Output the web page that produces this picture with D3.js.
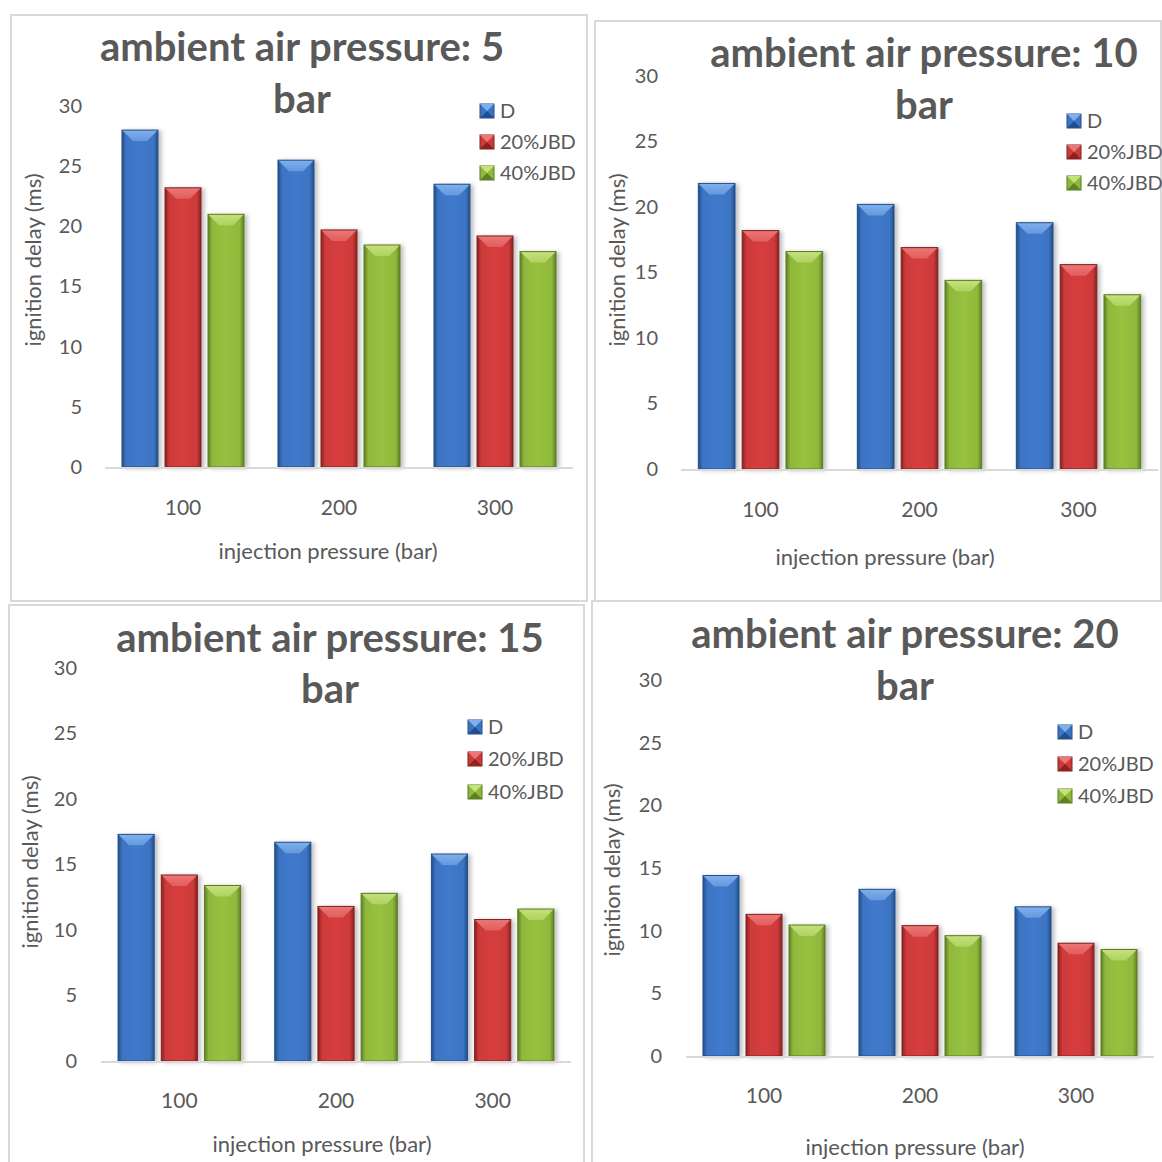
<!DOCTYPE html>
<html>
<head>
<meta charset="utf-8">
<script src="https://cdn.jsdelivr.net/npm/d3@7.9.0/dist/d3.min.js"></script>
<style>
  body { margin: 0; background: #fff; }
  svg { display: block; font-family: Lato, 'Open Sans', sans-serif; }
</style>
</head>
<body>
<svg id="chart" width="1162" height="1162"></svg>
<script>
// data
const categories = ['100', '200', '300'];
const seriesNames = ['D', '20%JBD', '40%JBD'];
const yTicks = [0, 5, 10, 15, 20, 25, 30];
const titles = ['ambient air pressure: 5', 'ambient air pressure: 10', 'ambient air pressure: 15', 'ambient air pressure: 20'];

// ignition delay (ms), one array per panel, rows = series, cols = injection pressure
const delay5bar = [[28.0, 25.5, 23.5], [23.2, 19.7, 19.2], [21.0, 18.45, 17.9]];
const delay10bar = [[21.8, 20.2, 18.8], [18.2, 16.9, 15.6], [16.6, 14.4, 13.3]];
const delay15bar = [[17.3, 16.7, 15.8], [14.2, 11.8, 10.8], [13.4, 12.8, 11.6]];
const delay20bar = [[14.4, 13.3, 11.9], [11.3, 10.4, 9.0], [10.45, 9.6, 8.5]];
const panelData = [delay5bar, delay10bar, delay15bar, delay20bar];

// panel geometry (pixels)
const layout = [
  { box: [11, 15, 587, 601], x: [105, 573], y: [467, 106], tx: 302, ty: [61, 113], lx: 480, ly: [111, 142, 173], yl: [33, 260], xl: [328, 551], tickY: 508, yTickX: 82 },
  { box: [595, 21, 1161, 602], x: [681, 1158], y: [469, 76], tx: 924, ty: [67, 119], lx: 1067, ly: [121, 152, 183], yl: [617, 260], xl: [885, 557], tickY: 510, yTickX: 658 },
  { box: [9, 605, 584, 1175], x: [101, 571], y: [1061, 668], tx: 330, ty: [652, 703], lx: 468, ly: [727, 759, 792], yl: [30, 862], xl: [322, 1144], tickY: 1101, yTickX: 77 },
  { box: [592, 601, 1175, 1175], x: [686, 1154], y: [1056, 680], tx: 905, ty: [648, 700], lx: 1058, ly: [732, 764, 796], yl: [612, 870], xl: [915, 1147], tickY: 1096, yTickX: 662 }
];

const palette = [
  { base: '#3d74c2', dark: '#1f4f8e', light: '#7fb0ee', edge: '#264f86' },
  { base: '#cc3a3a', dark: '#8e2020', light: '#ee7676', edge: '#7e2222' },
  { base: '#8fb83c', dark: '#5f8024', light: '#c4e27a', edge: '#5a7a22' }
];
const textColor = '#595959';

const svg = d3.select('#chart');
const defs = svg.append('defs');

palette.forEach((c, i) => {
  const g = defs.append('linearGradient').attr('id', 'grad' + i)
    .attr('x1', 0).attr('x2', 1).attr('y1', 0).attr('y2', 0);
  g.append('stop').attr('offset', '0%').attr('stop-color', c.dark);
  g.append('stop').attr('offset', '12%').attr('stop-color', c.base);
  g.append('stop').attr('offset', '50%').attr('stop-color', d3.color(c.base).brighter(0.15));
  g.append('stop').attr('offset', '88%').attr('stop-color', c.base);
  g.append('stop').attr('offset', '100%').attr('stop-color', c.dark);

  const t = defs.append('linearGradient').attr('id', 'top' + i)
    .attr('x1', 0).attr('x2', 0).attr('y1', 0).attr('y2', 1);
  t.append('stop').attr('offset', '0%').attr('stop-color', c.light);
  t.append('stop').attr('offset', '100%').attr('stop-color', d3.interpolateRgb(c.light, c.base)(0.4));
});

const shadow = defs.append('filter').attr('id', 'shadow')
  .attr('x', '-20%').attr('y', '-10%').attr('width', '150%').attr('height', '130%');
shadow.append('feDropShadow').attr('dx', 3).attr('dy', 1).attr('stdDeviation', 2)
  .attr('flood-color', '#000').attr('flood-opacity', 0.25);

function drawBar(g, x, y, w, h, i, bevel) {
  const c = palette[i];
  const b = Math.min(bevel, h / 2, w / 3);
  const bar = g.append('g').attr('filter', 'url(#shadow)');
  bar.append('rect').attr('x', x).attr('y', y).attr('width', w).attr('height', h)
    .attr('fill', `url(#grad${i})`);
  // top bevel
  bar.append('path')
    .attr('d', `M${x},${y}L${x + w},${y}L${x + w - b},${y + b}L${x + b},${y + b}Z`)
    .attr('fill', `url(#top${i})`);
  bar.append('rect').attr('x', x).attr('y', y).attr('width', w).attr('height', h)
    .attr('fill', 'none').attr('stroke', c.edge).attr('stroke-width', 1);
}

layout.forEach((L, p) => {
  const data = panelData[p];
  const g = svg.append('g');

  g.append('rect')
    .attr('x', L.box[0]).attr('y', L.box[1])
    .attr('width', L.box[2] - L.box[0]).attr('height', L.box[3] - L.box[1])
    .attr('fill', '#fff').attr('stroke', '#d9d9d9').attr('stroke-width', 2);

  const x = d3.scaleBand().domain(categories).range(L.x).padding(0);
  const xs = d3.scaleBand().domain(seriesNames).range([0, x.bandwidth()])
    .paddingInner(0.163).paddingOuter(0.395);
  const y = d3.scaleLinear().domain([0, 30]).range(L.y);

  // y tick labels
  const yAxis = d3.axisLeft(y).tickValues(yTicks).tickSize(0).tickPadding(0);
  const ya = g.append('g').attr('transform', `translate(${L.yTickX},0)`).call(yAxis);
  ya.select('.domain').remove();
  ya.selectAll('text').attr('fill', textColor).attr('font-size', 20)
    .attr('font-family', 'Lato, sans-serif');

  // x tick labels
  const xAxis = d3.axisBottom(x).tickSize(0).tickPadding(0);
  const xa = g.append('g').attr('transform', `translate(0,${L.tickY})`).call(xAxis);
  xa.select('.domain').remove();
  xa.selectAll('text').attr('fill', textColor).attr('font-size', 21)
    .attr('font-family', 'Lato, sans-serif').attr('dy', '0.35em');

  // bars
  seriesNames.forEach((s, i) => {
    categories.forEach((cat, j) => {
      const v = data[i][j];
      const bx = x(cat) + xs(s);
      drawBar(g, bx, y(v), xs.bandwidth(), y(0) - y(v), i, 11);
    });
  });

  // baseline
  g.append('line').attr('x1', L.x[0]).attr('x2', L.x[1])
    .attr('y1', y(0) + 1).attr('y2', y(0) + 1)
    .attr('stroke', '#d9d9d9').attr('stroke-width', 2);

  // title on two lines
  [titles[p], 'bar'].forEach((t, k) => {
    g.append('text').attr('x', L.tx).attr('y', L.ty[k])
      .attr('text-anchor', 'middle').attr('font-size', 40).attr('font-weight', 'bold')
      .attr('fill', textColor).text(t);
  });

  // axis titles
  g.append('text')
    .attr('transform', `translate(${L.yl[0]},${L.yl[1]}) rotate(-90)`)
    .attr('text-anchor', 'middle').attr('dy', '0.35em')
    .attr('font-size', 22).attr('fill', textColor).text('ignition delay (ms)');
  g.append('text').attr('x', L.xl[0]).attr('y', L.xl[1]).attr('dy', '0.35em')
    .attr('text-anchor', 'middle').attr('font-size', 22).attr('fill', textColor)
    .text('injection pressure (bar)');

  // legend
  seriesNames.forEach((s, i) => {
    const c = palette[i];
    const lg = g.append('g').attr('transform', `translate(${L.lx},${L.ly[i]})`);
    lg.append('rect').attr('x', 0).attr('y', -7).attr('width', 14).attr('height', 14)
      .attr('fill', c.base).attr('stroke', c.edge);
    lg.append('path').attr('d', 'M0,-7L14,-7L7,0Z').attr('fill', c.light);
    lg.append('path').attr('d', 'M0,7L14,7L7,0Z').attr('fill', c.dark);
    lg.append('text').attr('x', 20).attr('dy', '0.35em').attr('font-size', 20)
      .attr('fill', textColor).text(s);
  });
});
</script>
</body>
</html>
